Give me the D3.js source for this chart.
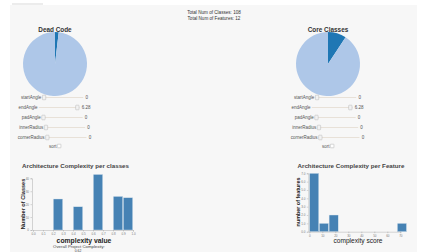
<!DOCTYPE html>
<html>
<head>
<meta charset="utf-8">
<script src="https://cdn.jsdelivr.net/npm/d3@7"></script>
<style>
  body { margin: 0; background: #fff; font-family: "Liberation Sans", Arial, sans-serif; }
  .tick text { fill: #777; }
  .domain, .tick line { stroke: #999; }
</style>
</head>
<body>
<svg id="chart" width="424" height="252"></svg>
<script>
// totals shown at the top
const totalLines = ["Total Num of Classes: 108", "Total Num of Features: 12"];

// pies: [highlighted, rest]
const pieTitles = ["Dead Code", "Core Classes"];
const deadCode = [2, 106];
const coreClasses = [10, 98];

// slider controls under each pie
const sliderLabels = ["startAngle", "endAngle", "padAngle", "innerRadius", "cornerRadius"];
const sliderValues = [0, 6.28, 0, 0, 0];
const sliderTexts = ["0", "6.28", "0", "0", "0"];

// classes histogram (bin start, bin end, count)
const classBinStart = [0.2, 0.4, 0.6, 0.8, 0.9];
const classBinEnd = [0.3, 0.5, 0.7, 0.9, 1.0];
const classCounts = [24, 18, 43, 26, 25];
const classTicksY = [0, 10, 20, 30, 40];

// features histogram
const featBinStart = [0, 7.5, 15, 67.5];
const featBinEnd = [7.5, 15, 22.5, 75];
const featCounts = [7, 1, 2, 1];
const featTicksX = [0, 10, 20, 30, 40, 50, 60, 70];
const featTicksY = [0, 1, 2, 3, 4, 5, 6, 7];

const svg = d3.select("#chart");

// page panel
svg.append("rect").attr("x", 10).attr("y", 5).attr("width", 407).attr("height", 247).attr("fill", "#f7f7f7");
svg.append("rect").attr("x", 12).attr("y", 3).attr("width", 31).attr("height", 2).attr("fill", "#ececec");

svg.selectAll(".total").data(totalLines).join("text")
  .attr("class", "total")
  .attr("x", 214).attr("y", (d, i) => 13.5 + i * 6.5)
  .attr("text-anchor", "middle")
  .style("font-size", "4.6px").attr("fill", "#333")
  .text(d => d);

// pies
const pieData = [deadCode, coreClasses];
const pieCenters = [55, 328];
const pie = d3.pie().sort(null);
const arc = d3.arc().innerRadius(0).outerRadius(32);
const pieColors = ["#1f77b4", "#aec7e8"];

pieData.forEach((vals, k) => {
  const g = svg.append("g").attr("transform", `translate(${pieCenters[k]},64)`);
  g.selectAll("path").data(pie(vals)).join("path")
    .attr("d", arc)
    .attr("fill", (d, i) => pieColors[i]);
  svg.append("text")
    .attr("x", pieCenters[k]).attr("y", 31.5)
    .attr("text-anchor", "middle")
    .style("font-size", "6.4px").style("font-weight", "600").attr("fill", "#333")
    .text(pieTitles[k]);

  // slider rows
  const sx = d3.scaleLinear().domain([0, 6.28]).range([0, 37]);
  sliderLabels.forEach((lab, i) => {
    const y = 97.5 + i * 10;
    const row = svg.append("g");
    const t1 = row.append("text").attr("y", y + 1.5).style("font-size", "4.5px").attr("fill", "#555").text(lab);
    const w1 = t1.node().getComputedTextLength();
    const trackW = 41;
    const t2 = row.append("text").attr("y", y + 1.5).style("font-size", "4.5px").attr("fill", "#555").text(sliderTexts[i]);
    const w2 = t2.node().getComputedTextLength();
    const total = w1 + 1 + trackW + 2 + w2;
    const x0 = pieCenters[k] - 0.5 - total / 2;
    t1.attr("x", x0);
    const tx = x0 + w1 + 1;
    t2.attr("x", tx + trackW + 2);
    row.append("rect").attr("x", tx).attr("y", y - 0.6).attr("width", trackW).attr("height", 1.2)
      .attr("rx", 0.6).attr("fill", "#e8e1d8");
    row.append("rect").attr("x", tx + sx(sliderValues[i])).attr("y", y - 2.3).attr("width", 3.4).attr("height", 4.6)
      .attr("rx", 0.6).attr("fill", "#f2f2f2").attr("stroke", "#aaa").attr("stroke-width", 0.4);
  });
  // sort checkbox
  const st = svg.append("text").attr("y", 148).style("font-size", "4.5px").attr("fill", "#555").text("sort");
  const sw = st.node().getComputedTextLength();
  st.attr("x", pieCenters[k] - (sw + 4.5) / 2);
  svg.append("rect").attr("x", pieCenters[k] - (sw + 4.5) / 2 + sw + 0.8).attr("y", 144.2)
    .attr("width", 3.6).attr("height", 3.6).attr("rx", 0.5)
    .attr("fill", "#fff").attr("stroke", "#999").attr("stroke-width", 0.4);
});

// histogram helper
function drawHist(cfg) {
  const x = d3.scaleLinear().domain(cfg.xDomain).range([cfg.left, cfg.right]);
  const y = d3.scaleLinear().domain(cfg.yDomain).range([cfg.bottom, cfg.top]);
  const g = svg.append("g");
  g.selectAll("rect").data(cfg.counts).join("rect")
    .attr("x", (d, i) => x(cfg.starts[i]) + 0.3)
    .attr("width", (d, i) => x(cfg.ends[i]) - x(cfg.starts[i]) - 0.6)
    .attr("y", d => y(d))
    .attr("height", d => cfg.bottom - y(d))
    .attr("fill", "#4682b4").attr("stroke", "#dfe8f0").attr("stroke-width", 0.4);
  const xa = g.append("g").attr("transform", `translate(0,${cfg.bottom})`)
    .call(d3.axisBottom(x).tickValues(cfg.xTicks).tickFormat(cfg.xFormat).tickSize(1.5).tickPadding(1.5));
  const ya = g.append("g").attr("transform", `translate(${cfg.left - 1},0)`)
    .call(d3.axisLeft(y).tickValues(cfg.yTicks).tickSize(1.5).tickPadding(1.5));
  [xa, ya].forEach(a => {
    a.selectAll("text").style("font-size", "3px");
    a.selectAll("path, line").attr("stroke-width", 0.4);
  });
  return g;
}

drawHist({
  xDomain: [0, 1], yDomain: [0, 40], left: 33, right: 133, top: 178.3, bottom: 230,
  starts: classBinStart, ends: classBinEnd, counts: classCounts,
  xTicks: d3.range(0, 11).map(d => d / 10), xFormat: d3.format(".1f"), yTicks: classTicksY
});
drawHist({
  xDomain: [0, 70], yDomain: [0, 7], left: 309.3, right: 400.3, top: 173.3, bottom: 231.7,
  starts: featBinStart, ends: featBinEnd, counts: featCounts,
  xTicks: featTicksX, xFormat: d3.format("d"), yTicks: featTicksY
});

// chart titles and labels
svg.append("text").attr("x", 22).attr("y", 168)
  .style("font-size", "6.2px").style("font-weight", "bold").attr("fill", "#444")
  .text("Architecture Complexity per classes");
svg.append("text").attr("x", 351).attr("y", 168).attr("text-anchor", "middle")
  .style("font-size", "6.2px").style("font-weight", "bold").attr("fill", "#444")
  .text("Architecture Complexity per Feature");

svg.append("text").attr("transform", "translate(24.5,204) rotate(-90)").attr("text-anchor", "middle")
  .style("font-size", "5.6px").style("font-weight", "bold").attr("fill", "#222")
  .text("Number of Classes");
svg.append("text").attr("x", 84).attr("y", 242.5).attr("text-anchor", "middle")
  .style("font-size", "6.8px").style("font-weight", "bold").attr("fill", "#222")
  .text("complexity value");
svg.append("text").attr("x", 79).attr("y", 247.5).attr("text-anchor", "middle")
  .style("font-size", "4.3px").attr("fill", "#444")
  .text("Overall Project Complexity:");
svg.append("text").attr("x", 78).attr("y", 251.5).attr("text-anchor", "middle")
  .style("font-size", "3.4px").attr("fill", "#444")
  .text("0.62");

svg.append("text").attr("transform", "translate(300,202) rotate(-90)").attr("text-anchor", "middle")
  .style("font-size", "5.4px").style("font-weight", "600").attr("fill", "#222")
  .text("number of features");
svg.append("text").attr("x", 358).attr("y", 243).attr("text-anchor", "middle")
  .style("font-size", "6.6px").attr("fill", "#222")
  .text("complexity score");
</script>
</body>
</html>
